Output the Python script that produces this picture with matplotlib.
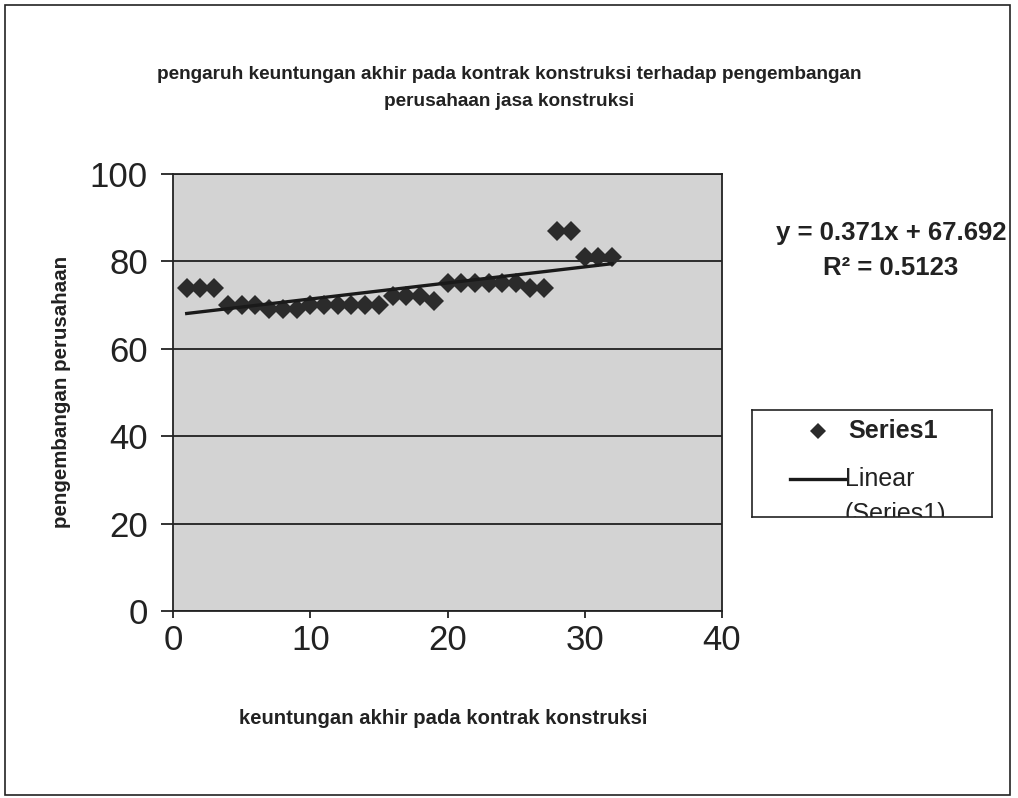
import numpy as np
import matplotlib
matplotlib.use("Agg")
import matplotlib.pyplot as plt
from matplotlib.patches import Rectangle

# ---- data ----
x_values = list(range(1, 33))
y_values = [74, 74, 74, 70, 70, 70, 69, 69, 69,
            70, 70, 70, 70, 70, 70, 72, 72, 72, 71,
            75, 75, 75, 75, 75, 75, 74, 74, 87, 87, 81, 81, 81]
x_ticks = [0, 10, 20, 30, 40]
y_ticks = [0, 20, 40, 60, 80, 100]
title_text = "pengaruh keuntungan akhir pada kontrak konstruksi terhadap pengembangan\nperusahaan jasa konstruksi"
xlabel_text = "keuntungan akhir pada kontrak konstruksi"
ylabel_text = "pengembangan perusahaan"
eq_text = "y = 0.371x + 67.692"
r2_text = "R\u00b2 = 0.5123"
series_name = "Series1"
trend_line1 = "Linear"
trend_line2 = "(Series1)"

plt.rcParams['font.family'] = ['Liberation Sans', 'DejaVu Sans']

W, H = 1018, 798
fig = plt.figure(figsize=(W / 100, H / 100), dpi=100)
fig.patch.set_facecolor('white')

def fx(px):
    return px / W

def fy(py):
    return 1 - py / H

# outer border
fig.add_artist(Rectangle((fx(5), fy(795)), fx(1010) - fx(5), fy(5) - fy(795),
                         transform=fig.transFigure, fill=False,
                         edgecolor='#222222', linewidth=1.2))

L, R, T, B = 173, 722, 174, 611
ax = fig.add_axes([fx(L), fy(B), fx(R) - fx(L), fy(T) - fy(B)])
ax.set_facecolor('#d3d3d3')
ax.set_xlim(0, 40)
ax.set_ylim(0, 100)
ax.set_xticks(x_ticks)
ax.set_yticks(y_ticks)
ax.yaxis.grid(True, color='#111111', linewidth=1.2)
ax.set_axisbelow(True)
for s in ax.spines.values():
    s.set_color('#222222')
    s.set_linewidth(1.3)
ax.tick_params(axis='both', labelsize=25, colors='#222222', width=1.3)
ax.tick_params(axis='y', direction='out', length=9, pad=9)
ax.tick_params(axis='x', direction='out', length=5, pad=4)

ax.plot(x_values, y_values, linestyle='none', marker='D', markersize=10,
        color='#2b2b2b', markeredgewidth=0, zorder=3)

coef = np.polyfit(x_values, y_values, 1)
xs = np.array([min(x_values), max(x_values)])
ax.plot(xs, np.polyval(coef, xs), color='#1a1a1a', linewidth=2.4, zorder=4)

fig.text(0.5, fy(88), title_text, ha='center', va='center', fontsize=13.7,
         fontweight='bold', linespacing=1.7, color='#222222')
fig.text(fx(443), fy(718), xlabel_text, ha='center', va='center', fontsize=14.6,
         fontweight='bold', color='#222222')
fig.text(fx(62), fy(392), ylabel_text, ha='center', va='center', fontsize=14.8,
         fontweight='bold', rotation=90, color='#222222')

fig.text(fx(891), fy(233), eq_text, ha='center', va='center', fontsize=18.5,
         fontweight='bold', color='#222222')
fig.text(fx(891), fy(268), r2_text, ha='center', va='center', fontsize=18.5,
         fontweight='bold', color='#222222')

# legend box
lg = fig.add_axes([fx(752), fy(517), fx(992) - fx(752), fy(410) - fy(517)])
lg.set_xlim(752, 992)
lg.set_ylim(517, 410)
lg.set_facecolor('white')
lg.set_xticks([])
lg.set_yticks([])
for s in lg.spines.values():
    s.set_color('#222222')
    s.set_linewidth(1.2)
lg.plot([818], [431], marker='D', markersize=8, color='#2b2b2b', markeredgewidth=0)
lg.text(848, 431, series_name, ha='left', va='center', fontsize=18.2,
        fontweight='bold', color='#222222', clip_on=True)
lg.plot([790, 845], [479, 479], color='#1a1a1a', linewidth=2.4)
lg.text(845, 479, trend_line1, ha='left', va='center', fontsize=18,
        color='#222222', clip_on=True)
lg.text(845, 514, trend_line2, ha='left', va='center', fontsize=18,
        color='#222222', clip_on=True)

fig.savefig('out.png', dpi=100)
